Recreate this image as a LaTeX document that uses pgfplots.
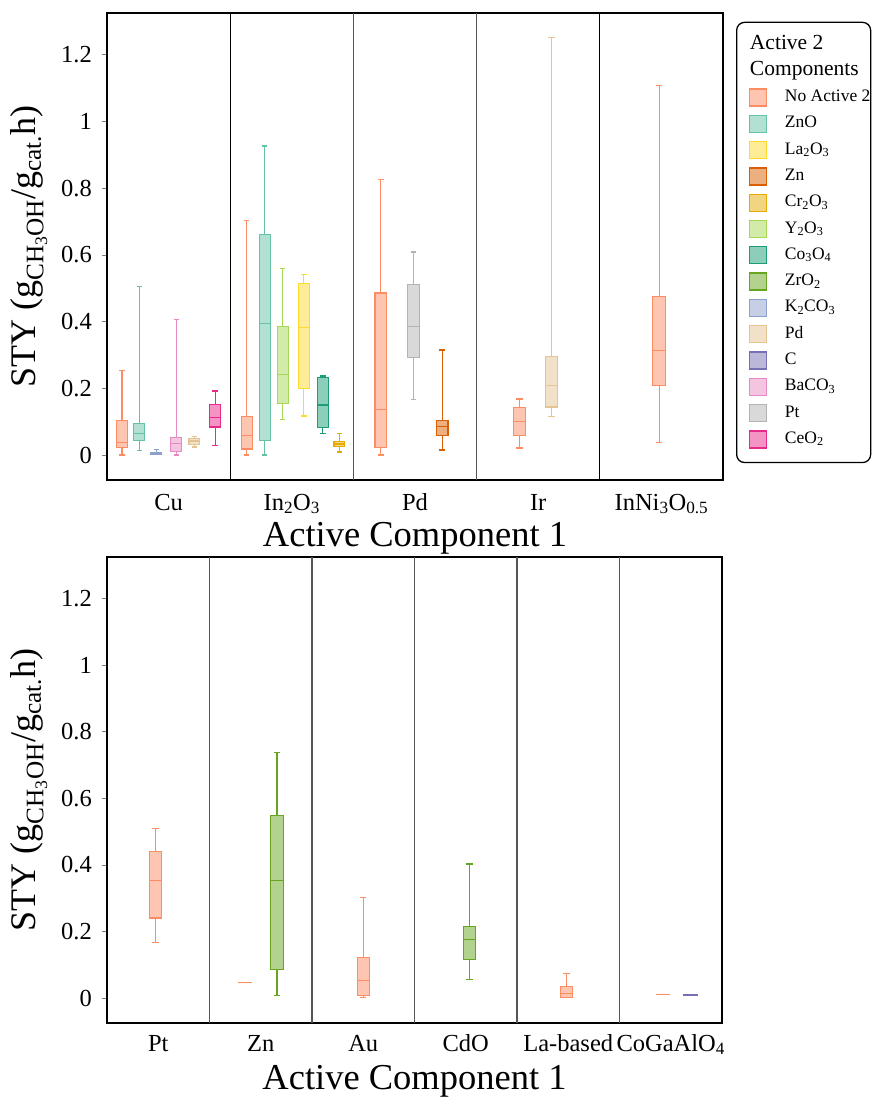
\documentclass[border=0pt]{standalone}
\usepackage{fontspec}
\setmainfont{Liberation Serif}
\usepackage{pgfplots}
\pgfplotsset{compat=1.18}
\usepgfplotslibrary{statistics}
\definecolor{noa}{HTML}{FC8D62}
\definecolor{zno}{HTML}{66C2A5}
\definecolor{lao}{HTML}{FFD92F}
\definecolor{znc}{HTML}{D95F02}
\definecolor{cro}{HTML}{E6AB02}
\definecolor{yo}{HTML}{A6D854}
\definecolor{coo}{HTML}{1B9E77}
\definecolor{zro}{HTML}{66A61E}
\definecolor{kco}{HTML}{8DA0CB}
\definecolor{pdc}{HTML}{E5C494}
\definecolor{cc}{HTML}{7570B3}
\definecolor{bco}{HTML}{E78AC3}
\definecolor{ptc}{HTML}{B3B3B3}
\definecolor{ceo}{HTML}{E7298A}
\definecolor{sepc}{HTML}{555555}
\pgfplotsset{
  bxs/.style={forget plot, draw=#1, fill=#1!50!white, line width=1.2pt, solid, mark=none},
  lbox/.style={legend image code/.code={\draw[sharp corners, draw=#1, fill=#1!50!white, line width=1.3pt] (0pt,-8.5pt) rectangle (17pt,8.5pt);}},
  mystyle/.style={
    scale only axis, width=616pt, height=467pt,
    ymin=-0.075, ymax=1.326,
    ytick={0,0.2,0.4,0.6,0.8,1,1.2},
    axis line style={line width=1.6pt},
    tick align=outside, ytick pos=left, xtick pos=bottom,
    major tick length=5pt,
    xtick style={draw=none},
    ytick style={draw=gray, line width=1pt},
    /pgf/number format/assume math mode=true,
    yticklabel style={font=\fontsize{24.5}{28}\selectfont, anchor=east, inner sep=0pt, xshift=-10pt},
    xlabel style={font=\fontsize{36.5}{42}\selectfont, at={(axis description cs:0.5,0)}, anchor=base, yshift=-66pt, inner sep=0pt, text height=24pt},
    ylabel style={font=\fontsize{36}{40}\selectfont, at={(axis description cs:-0.127,0.5)}, anchor=center},
    xlabel={Active Component 1},
    ylabel={STY (g\textsubscript{CH\textsubscript{3}OH}/g\textsubscript{cat.}h)},
    boxplot/draw direction=y,
    boxplot/whisker extend=\pgfkeysvalueof{/pgfplots/boxplot/box extend}*0.5,
  },
}
\begin{document}
\begin{tikzpicture}
\path[use as bounding box] (0pt,0pt) rectangle (873pt,-1099pt);
% ---------------- top axis ----------------
\begin{axis}[mystyle,
  at={(107pt,-13pt)}, anchor=north west,
  xmin=-0.5, xmax=4.5,
  xtick={0,1,2,3,4},
  xticklabels={Cu, In\textsubscript{2}O\textsubscript{3}, Pd, Ir, InNi\textsubscript{3}O\textsubscript{0.5}},
  xticklabel style={font=\fontsize{24.5}{28}\selectfont, anchor=base, inner sep=0pt, yshift=-25pt},
  boxplot/box extend=0.088,
  legend cell align=left,
  legend style={at={(1,1)}, anchor=north west, xshift=13pt, yshift=-8.7pt,
    draw=black, line width=1.3pt, rounded corners=8pt,
    font=\fontsize{17.5}{20}\selectfont,
    nodes={inner sep=0pt, text height=13pt, text depth=5pt},
    row sep=8pt, column sep=18pt,
    inner xsep=12pt, inner ysep=14pt},
]
\addlegendimage{empty legend}\addlegendentry{\hspace*{-35pt}\fontsize{21.5}{24}\selectfont Active 2}
\addlegendimage{empty legend}\addlegendentry{\hspace*{-35pt}\fontsize{21.5}{24}\selectfont Components}
\addlegendimage{lbox=noa}\addlegendentry{No Active 2\hspace*{-14pt}}
\addlegendimage{lbox=zno}\addlegendentry{ZnO}
\addlegendimage{lbox=lao}\addlegendentry{La\textsubscript{2}O\textsubscript{3}}
\addlegendimage{lbox=znc}\addlegendentry{Zn}
\addlegendimage{lbox=cro}\addlegendentry{Cr\textsubscript{2}O\textsubscript{3}}
\addlegendimage{lbox=yo}\addlegendentry{Y\textsubscript{2}O\textsubscript{3}}
\addlegendimage{lbox=coo}\addlegendentry{Co\textsubscript{3}O\textsubscript{4}}
\addlegendimage{lbox=zro}\addlegendentry{ZrO\textsubscript{2}}
\addlegendimage{lbox=kco}\addlegendentry{K\textsubscript{2}CO\textsubscript{3}}
\addlegendimage{lbox=pdc}\addlegendentry{Pd}
\addlegendimage{lbox=cc}\addlegendentry{C}
\addlegendimage{lbox=bco}\addlegendentry{BaCO\textsubscript{3}}
\addlegendimage{lbox=ptc}\addlegendentry{Pt}
\addlegendimage{lbox=ceo}\addlegendentry{CeO\textsubscript{2}}
\draw[black, line width=1.2pt] (axis cs:0.5,-0.075) -- (axis cs:0.5,1.326);
\draw[sepc, line width=1.2pt] (axis cs:1.5,-0.075) -- (axis cs:1.5,1.326);
\draw[sepc, line width=1.2pt] (axis cs:2.5,-0.075) -- (axis cs:2.5,1.326);
\draw[black, line width=1.2pt] (axis cs:3.5,-0.075) -- (axis cs:3.5,1.326);
% Cu
\addplot[bxs=noa, boxplot prepared={draw position=-0.378, lower whisker=0.0, lower quartile=0.022, median=0.038, upper quartile=0.103, upper whisker=0.254}] coordinates {};
\addplot[bxs=zno, boxplot prepared={draw position=-0.238, lower whisker=0.013, lower quartile=0.043, median=0.065, upper quartile=0.095, upper whisker=0.506}] coordinates {};
\addplot[bxs=kco, boxplot prepared={draw position=-0.100, lower whisker=0.003, lower quartile=0.003, median=0.005, upper quartile=0.008, upper whisker=0.016}] coordinates {};
\addplot[bxs=bco, boxplot prepared={draw position=0.062, lower whisker=0.0, lower quartile=0.010, median=0.035, upper quartile=0.053, upper whisker=0.407}] coordinates {};
\addplot[bxs=pdc, boxplot prepared={draw position=0.209, lower whisker=0.024, lower quartile=0.032, median=0.042, upper quartile=0.049, upper whisker=0.056}] coordinates {};
\addplot[bxs=ceo, boxplot prepared={draw position=0.378, lower whisker=0.028, lower quartile=0.084, median=0.113, upper quartile=0.152, upper whisker=0.192}] coordinates {};
% In2O3
\addplot[bxs=noa, boxplot prepared={draw position=0.634, lower whisker=0.0, lower quartile=0.018, median=0.059, upper quartile=0.115, upper whisker=0.703}] coordinates {};
\addplot[bxs=zno, boxplot prepared={draw position=0.780, lower whisker=0.0, lower quartile=0.043, median=0.394, upper quartile=0.661, upper whisker=0.927}] coordinates {};
\addplot[bxs=yo, boxplot prepared={draw position=0.926, lower whisker=0.107, lower quartile=0.155, median=0.241, upper quartile=0.386, upper whisker=0.560}] coordinates {};
\addplot[bxs=lao, boxplot prepared={draw position=1.098, lower whisker=0.117, lower quartile=0.200, median=0.383, upper quartile=0.514, upper whisker=0.542}] coordinates {};
\addplot[bxs=coo, boxplot prepared={draw position=1.252, lower whisker=0.064, lower quartile=0.083, median=0.150, upper quartile=0.232, upper whisker=0.237}] coordinates {};
\addplot[bxs=cro, boxplot prepared={draw position=1.386, lower whisker=0.009, lower quartile=0.026, median=0.033, upper quartile=0.040, upper whisker=0.065}] coordinates {};
% Pd
\addplot[bxs=noa, boxplot/box extend=0.095, boxplot prepared={draw position=1.722, lower whisker=0.0, lower quartile=0.023, median=0.137, upper quartile=0.486, upper whisker=0.826}] coordinates {};
\addplot[bxs=ptc, boxplot/box extend=0.095, boxplot prepared={draw position=1.988, lower whisker=0.167, lower quartile=0.293, median=0.385, upper quartile=0.512, upper whisker=0.609}] coordinates {};
\addplot[bxs=znc, boxplot/box extend=0.095, boxplot prepared={draw position=2.221, lower whisker=0.015, lower quartile=0.059, median=0.086, upper quartile=0.103, upper whisker=0.315}] coordinates {};
% Ir
\addplot[bxs=noa, boxplot/box extend=0.10, boxplot prepared={draw position=2.848, lower whisker=0.021, lower quartile=0.059, median=0.100, upper quartile=0.143, upper whisker=0.168}] coordinates {};
\addplot[bxs=pdc, boxplot/box extend=0.10, boxplot prepared={draw position=3.108, lower whisker=0.115, lower quartile=0.144, median=0.208, upper quartile=0.296, upper whisker=1.253}] coordinates {};
% InNi3O0.5
\addplot[bxs=noa, boxplot/box extend=0.105, boxplot prepared={draw position=3.982, lower whisker=0.038, lower quartile=0.208, median=0.314, upper quartile=0.476, upper whisker=1.108}] coordinates {};
\end{axis}
% ---------------- bottom axis ----------------
\begin{axis}[mystyle,
  at={(107pt,-557pt)}, anchor=north west,
  width=615pt, height=466pt,
  xmin=-0.5, xmax=5.5,
  xtick={0,1,2,3,4,5},
  xticklabels={Pt, Zn, Au, CdO, La-based, CoGaAlO\textsubscript{4}},
  xticklabel style={font=\fontsize{24.5}{28}\selectfont, anchor=base, inner sep=0pt, yshift=-23pt},
  boxplot/box extend=0.12,
]
\draw[sepc, line width=1.2pt] (axis cs:0.5,-0.075) -- (axis cs:0.5,1.326);
\draw[sepc, line width=1.2pt] (axis cs:1.5,-0.075) -- (axis cs:1.5,1.326);
\draw[sepc, line width=1.2pt] (axis cs:2.5,-0.075) -- (axis cs:2.5,1.326);
\draw[sepc, line width=1.2pt] (axis cs:3.5,-0.075) -- (axis cs:3.5,1.326);
\draw[sepc, line width=1.2pt] (axis cs:4.5,-0.075) -- (axis cs:4.5,1.326);
% Pt
\addplot[bxs=noa, boxplot prepared={draw position=-0.027, lower whisker=0.166, lower quartile=0.241, median=0.353, upper quartile=0.440, upper whisker=0.510}] coordinates {};
% Zn
\addplot[bxs=noa, boxplot/box extend=0.13, boxplot prepared={draw position=0.846, lower whisker=0.046, lower quartile=0.046, median=0.046, upper quartile=0.046, upper whisker=0.046}] coordinates {};
\addplot[bxs=zro, boxplot prepared={draw position=1.159, lower whisker=0.008, lower quartile=0.087, median=0.354, upper quartile=0.549, upper whisker=0.738}] coordinates {};
% Au
\addplot[bxs=noa, boxplot prepared={draw position=2.001, lower whisker=0.001, lower quartile=0.008, median=0.052, upper quartile=0.123, upper whisker=0.302}] coordinates {};
% CdO
\addplot[bxs=zro, boxplot prepared={draw position=3.037, lower whisker=0.055, lower quartile=0.116, median=0.177, upper quartile=0.215, upper whisker=0.403}] coordinates {};
% La-based
\addplot[bxs=noa, boxplot prepared={draw position=3.983, lower whisker=0.001, lower quartile=0.001, median=0.013, upper quartile=0.035, upper whisker=0.074}] coordinates {};
% CoGaAlO4
\addplot[bxs=noa, boxplot/box extend=0.13, boxplot prepared={draw position=4.923, lower whisker=0.011, lower quartile=0.011, median=0.011, upper quartile=0.011, upper whisker=0.011}] coordinates {};
\addplot[bxs=cc, boxplot/box extend=0.13, boxplot prepared={draw position=5.195, lower whisker=0.007, lower quartile=0.008, median=0.009, upper quartile=0.010, upper whisker=0.011}] coordinates {};
\end{axis}
\end{tikzpicture}
\end{document}
